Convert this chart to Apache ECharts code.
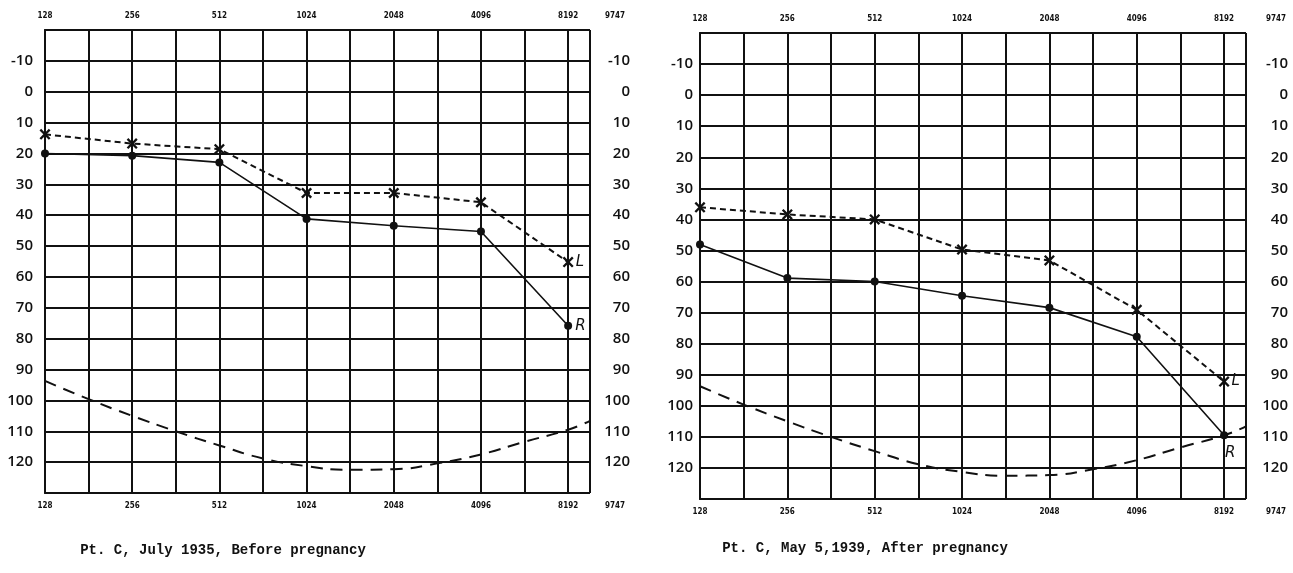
<!DOCTYPE html>
<html><head><meta charset="utf-8">
<script src="https://cdn.jsdelivr.net/npm/echarts@6/dist/echarts.min.js"></script>
<style>html,body{margin:0;padding:0;background:#fff}#c{width:1293px;height:573px}</style>
</head><body><div id="c"></div>
<script>
// ---- data ----
const freqs = [128, 256, 512, 1024, 2048, 4096, 8192];
const edgeFreq = 9747;
const before_R = [20, 20.7, 22.9, 41.2, 43.4, 45.3, 75.8];
const before_L = [13.8, 16.8, 18.6, 32.8, 32.8, 35.8, 55.2];
const after_R = [48.1, 58.9, 60, 64.6, 68.4, 77.8, 109.5];
const after_L = [36.1, 38.4, 40, 49.7, 53.2, 69.1, 92.2];
const normFreqs = [128, 181, 256, 362, 512, 724, 1024, 1448, 2048, 2896, 4096, 5793, 8192, 9747];
const normLevel = [93.7, 99.6, 105, 110, 114.6, 118.8, 121.3, 122.5, 122.3, 120.4, 117.5, 113.4, 109.5, 106.6];
const titles = ['Pt. C, July 1935, Before pregnancy', 'Pt. C, May 5,1939, After pregnancy'];

// ---- helpers ----
const oct = f => Math.log2(f / 128);
const xMax = oct(edgeFreq);
const pairs = (fs, vs) => fs.map((f, i) => [oct(f), vs[i]]);
const INK = '#111';
const xSymbol = 'path://M0,1.5L1.5,0L5,3.5L8.5,0L10,1.5L6.5,5L10,8.5L8.5,10L5,6.5L1.5,10L0,8.5L3.5,5Z';
const tickFont = "'DejaVu Sans Condensed', 'DejaVu Sans', sans-serif";

function xLabel(v) {
  if (Math.abs(v - xMax) < 1e-6) return '{e|' + edgeFreq + '}';
  if (Math.abs(v - Math.round(v)) < 1e-6) return String(128 * Math.pow(2, Math.round(v)));
  return '';
}

const grids = [
  { left: 45, top: 30, width: 545, height: 463 },
  { left: 700, top: 33, width: 546, height: 466 }
];
const edgePad = [50, 60];
const leftMargin = [12, 7];

const xAxis = [], yAxis = [], series = [];
grids.forEach((g, gi) => {
  ['bottom', 'top'].forEach(pos => {
    xAxis.push({
      type: 'value', gridIndex: gi, position: pos, min: 0, max: xMax, interval: 0.5,
      axisLine: { show: true, lineStyle: { color: INK, width: 2 } },
      axisTick: { show: false },
      splitLine: { show: pos === 'bottom', lineStyle: { color: INK, width: 2 } },
      axisLabel: {
        show: true, formatter: xLabel, showMaxLabel: true, showMinLabel: true,
        margin: pos === 'top' ? 10 : 9,
        fontFamily: tickFont, fontWeight: 'bold', fontSize: 8, color: INK,
        rich: { e: { fontFamily: tickFont, fontWeight: 'bold', fontSize: 8, color: INK, padding: [0, 0, 0, edgePad[gi]] } }
      }
    });
  });
  ['left', 'right'].forEach(pos => {
    yAxis.push({
      type: 'value', gridIndex: gi, position: pos, inverse: true, min: -20, max: 130, interval: 10,
      axisLine: { show: true, lineStyle: { color: INK, width: 2 } },
      axisTick: { show: false },
      splitLine: { show: pos === 'left', lineStyle: { color: INK, width: 2 } },
      axisLabel: {
        formatter: v => (v <= -20 || v >= 130) ? '' : String(v),
        align: 'right', margin: pos === 'left' ? leftMargin[gi] : 40 + gi * 2,
        fontFamily: 'Open Sans', fontWeight: 600, fontSize: 15, color: INK
      }
    });
  });
});

function addSeries(gi, R, L) {
  const xi = gi * 2, yi = gi * 2;
  series.push({
    type: 'line', xAxisIndex: xi, yAxisIndex: yi, data: pairs(freqs, R),
    symbol: 'circle', symbolSize: 8, itemStyle: { color: INK },
    lineStyle: { color: INK, width: 1.6 },
    label: { show: true, formatter: p => p.dataIndex === R.length - 1 ? 'R' : '',
      position: gi === 0 ? 'right' : [5, 14], distance: 3,
      fontFamily: 'DejaVu Sans', fontStyle: 'italic', fontSize: 15, color: INK },
    z: 5, animation: false
  });
  series.push({
    type: 'line', xAxisIndex: xi, yAxisIndex: yi, data: pairs(freqs, L),
    symbol: xSymbol, symbolSize: 11, itemStyle: { color: INK },
    lineStyle: { color: INK, width: 2, type: [6, 4] },
    label: { show: true, formatter: p => p.dataIndex === L.length - 1 ? 'L' : '',
      position: 'right', distance: 2,
      fontFamily: 'DejaVu Sans', fontStyle: 'italic', fontSize: 15, color: INK },
    z: 5, animation: false
  });
  series.push({
    type: 'line', xAxisIndex: xi, yAxisIndex: yi, data: pairs(normFreqs, normLevel),
    symbol: 'none', smooth: 0.5,
    lineStyle: { color: INK, width: 2, type: [12, 8] },
    z: 4, animation: false
  });
}
addSeries(0, before_R, before_L);
addSeries(1, after_R, after_L);

const chart = echarts.init(document.getElementById('c'));
chart.setOption({
  backgroundColor: '#fff',
  animation: false,
  grid: grids,
  xAxis, yAxis, series,
  title: [
    { text: titles[0], left: 218, top: 538, textAlign: 'center',
      textStyle: { fontFamily: 'Liberation Mono', fontWeight: 'bold', fontSize: 14, color: INK } },
    { text: titles[1], left: 860, top: 536, textAlign: 'center',
      textStyle: { fontFamily: 'Liberation Mono', fontWeight: 'bold', fontSize: 14, color: INK } }
  ]
});
</script></body></html>
